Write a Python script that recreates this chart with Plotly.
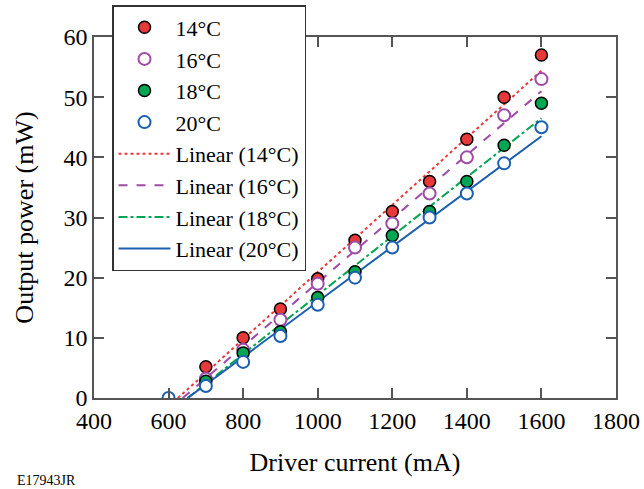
import plotly.graph_objects as go

current = [600, 700, 800, 900, 1000, 1100, 1200, 1300, 1400, 1500, 1600]
p14 = [None, 5.2, 10.0, 14.8, 19.8, 26.2, 31.0, 36.0, 43.0, 50.0, 57.0]
p16 = [None, 3.2, 8.0, 13.0, 19.0, 25.0, 29.0, 34.0, 40.0, 47.0, 53.0]
p18 = [None, 2.8, 7.5, 11.0, 16.7, 21.0, 27.0, 31.0, 36.0, 42.0, 49.0]
p20 = [0.0, 2.0, 6.0, 10.3, 15.5, 20.0, 25.0, 30.0, 34.0, 39.0, 45.0]

# linear trendline endpoints
fit14_x, fit14_y = [625, 1600], [0, 54.4]
fit16_x, fit16_y = [638, 1600], [0, 51.0]
fit18_x, fit18_y = [651, 1600], [0, 46.5]
fit20_x, fit20_y = [651, 1600], [0, 43.5]

labels = ["14°C", "16°C", "18°C", "20°C"]
fit_labels = ["Linear (14°C)", "Linear (16°C)", "Linear (18°C)", "Linear (20°C)"]
x_ticks = [400, 600, 800, 1000, 1200, 1400, 1600, 1800]
y_ticks = [0, 10, 20, 30, 40, 50, 60]

RED = "#e8393a"
PURPLE = "#a04aa8"
GREEN = "#00a651"
BLUE = "#1c5fb0"
FONT = "Liberation Serif, Times New Roman, DejaVu Serif, serif"

fig = go.Figure()

fits = [
    (fit14_x, fit14_y, RED, "dot"),
    (fit16_x, fit16_y, PURPLE, "dash"),
    (fit18_x, fit18_y, GREEN, "dashdot"),
    (fit20_x, fit20_y, BLUE, "solid"),
]
for i, (fx, fy, col, dash) in enumerate(fits):
    fig.add_trace(go.Scatter(x=fx, y=fy, mode="lines", name=fit_labels[i],
                             line=dict(color=col, width=2, dash=dash),
                             legendrank=10 + i))

series = [
    (p14, RED, "black"),
    (p16, "white", PURPLE),
    (p18, GREEN, "black"),
    (p20, "white", BLUE),
]
for i, (vals, fill, edge) in enumerate(series):
    fig.add_trace(go.Scatter(x=current, y=vals, mode="markers", name=labels[i],
                             marker=dict(symbol="circle", size=12, color=fill,
                                         line=dict(color=edge, width=1.5 if edge == "black" else 2)),
                             legendrank=i))

axis_common = dict(showline=True, linecolor="#555", linewidth=1.5, mirror="ticks",
                   ticks="inside", ticklen=10, tickcolor="#555", tickwidth=1.5,
                   showgrid=False, zeroline=False, ticklabeloverflow="allow",
                   tickfont=dict(family=FONT, size=24, color="black"))

fig.update_xaxes(range=[400, 1800], tickvals=x_ticks, ticktext=[str(v) for v in x_ticks],
                 title=dict(text="Driver current (mA)", font=dict(family=FONT, size=26, color="black"),
                            standoff=20),
                 **axis_common)
fig.update_yaxes(range=[0, 60], tickvals=y_ticks, ticktext=[str(v) for v in y_ticks],
                 title=dict(text="Output power (mW)", font=dict(family=FONT, size=26, color="black"),
                            standoff=22),
                 **axis_common)

fig.update_layout(
    width=644, height=489,
    margin=dict(l=94, r=28, t=37, b=91, autoexpand=False),
    plot_bgcolor="white", paper_bgcolor="white",
    font=dict(family=FONT, size=24, color="black"),
    legend=dict(x=0.0345, y=1.0886, xanchor="left", yanchor="top",
                bgcolor="white", bordercolor="#333", borderwidth=1.5,
                font=dict(family=FONT, size=22, color="black"),
                itemwidth=52, tracegroupgap=0, maxheight=489),
    annotations=[dict(text="E17943JR", x=(15 - 94) / 522, y=(398 - 480) / 361,
                      xref="paper", yref="paper", xanchor="left", yanchor="middle",
                      showarrow=False, font=dict(family=FONT, size=14, color="black"))],
)

fig.write_html("out.html", config={"displayModeBar": False},
               post_script="document.body.style.margin='0';document.body.style.overflow='hidden';")
